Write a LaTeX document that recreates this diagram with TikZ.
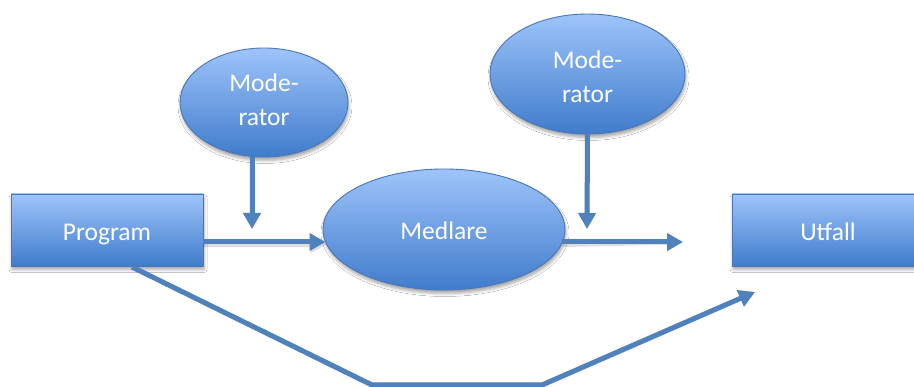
\documentclass[tikz,border=0pt]{standalone}
\usepackage{fontspec}
\setmainfont{Carlito}
\usetikzlibrary{shapes.geometric,arrows.meta,shadows.blur}
\definecolor{fillTop}{RGB}{158,196,250}
\definecolor{fillBot}{RGB}{64,124,204}
\definecolor{edge}{RGB}{72,118,184}
\definecolor{arrowc}{RGB}{79,129,189}
\tikzset{
  labelfont/.style={text=white, font=\fontsize{25.5}{34}\selectfont},
  box/.style={shape=rectangle, draw=edge, line width=0.9pt,
    top color=fillTop, bottom color=fillBot, labelfont,
    minimum width=192pt, minimum height=72pt, inner sep=0pt,
    blur shadow={shadow xshift=1pt, shadow yshift=-3.5pt,
      shadow blur radius=3pt, shadow opacity=35}},
  oneline/.style={text height=25pt, text depth=4pt},
  oval/.style={box, shape=ellipse},
  ovaltext/.style={labelfont, align=center, inner sep=0pt},
  tip/.style={-{Triangle[length=16pt,width=17pt]}},
  link/.style={draw=arrowc, line width=5pt},
  arr/.style={link, tip},
  linkshadow/.style={draw=black, line width=5pt},
}
\begin{document}
\begin{tikzpicture}[x=1pt, y=-1pt]
\useasboundingbox (0,0) rectangle (914,387);
\fill[white] (0,0) rectangle (914,387);

% main nodes
\node[box, oneline] (prog) at (107,230) {Program};
\node[box, oneline] (utf) at (828,230) {Utfall};
\node[oval, oneline, minimum width=242pt, minimum height=121pt] (med) at (444,229.5) {Medlare};
\node[oval, minimum width=168pt, minimum height=109pt] (mod1) at (264,102.5) {};
\node[oval, minimum width=195pt, minimum height=120pt] (mod2) at (587.5,74) {};
\node[ovaltext] (mod1text) at ([yshift=2.5pt]mod1.center) {Mode-\\rator};
\node[ovaltext] (mod2text) at ([yshift=-2.5pt]mod2.center) {Mode-\\rator};

% free ends of the connectors
\coordinate (t1) at (252,229);
\coordinate (t2) at (587,229);
\coordinate (t3) at (683,242);
\coordinate (p0) at (132,267);
\coordinate (b1) at (372,385);
\coordinate (b2) at (542,385);
\coordinate (t4) at (755,292);

% soft shadows under the connectors
\begin{scope}[shift={(1,2.5)}, opacity=0.13, transparency group]
  \draw[linkshadow, tip] (p0) -- (b1) -- (b2) -- (t4);
  \draw[linkshadow, tip] (prog.east |- 0,242) -- (325.5,242);
  \draw[linkshadow, tip] (562,242) -- (t3);
  \draw[linkshadow, tip] (t1 |- mod1.south) -- (t1);
  \draw[linkshadow, tip] (mod2.south) -- (t2);
\end{scope}

% connectors
\draw[arr] (t1 |- mod1.south) -- (t1);
\draw[arr] (mod2.south) -- (t2);
\draw[arr] (prog.east |- 0,242) -- (325.5,242);
\draw[arr] (562,242) -- (t3);
\draw[arr, line join=miter] (p0) -- (b1) -- (b2) -- (t4);
\end{tikzpicture}
\end{document}
